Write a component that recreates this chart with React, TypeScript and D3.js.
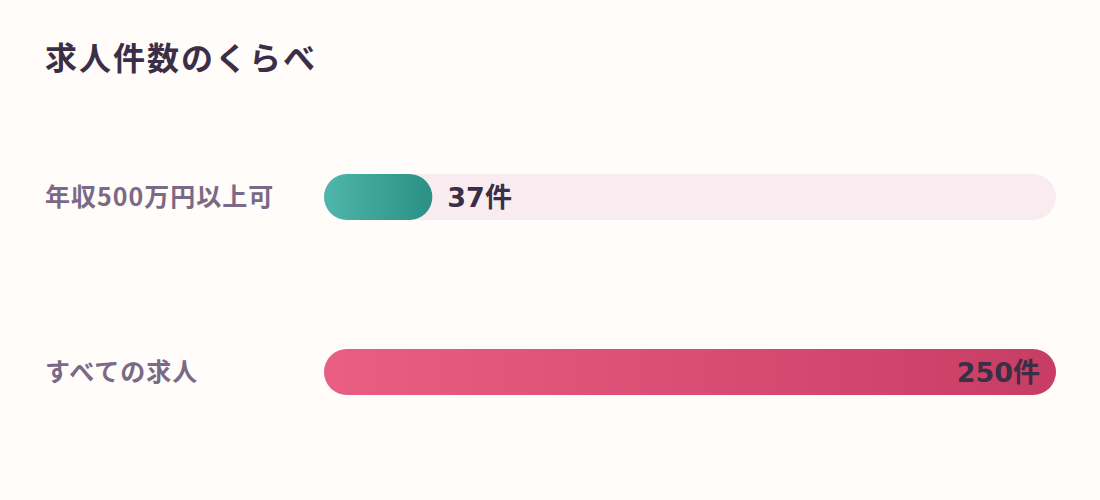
import React, { useEffect, useRef } from 'react'
import * as d3 from 'd3'

const title = '求人件数のくらべ'
const categories = ['年収500万円以上可', 'すべての求人']
const counts = [37, 250]
const valueSuffix = '件'
const maxCount = 250

const App = () => {
    const ref = useRef<SVGSVGElement>(null)

    useEffect(() => {
        document.body.style.margin = '0'
        draw()
    })

    const draw = () => {
        const width = 1100
        const height = 500
        const barLeft = 324
        const barRight = 1056
        const barH = 46

        const svg = d3.select(ref.current)
        svg.selectAll('*').remove()
        svg.attr('width', width).attr('height', height)

        svg.append('rect').attr('width', width).attr('height', height).attr('fill', '#fffcfa')

        const defs = svg.append('defs')
        const grads = [
            { id: 'gTeal', from: '#4fb6ab', to: '#2a9086' },
            { id: 'gRed', from: '#e95e82', to: '#c83d64' },
        ]
        grads.forEach((g) => {
            const lg = defs.append('linearGradient').attr('id', g.id).attr('x1', '0%').attr('x2', '100%')
            lg.append('stop').attr('offset', '0%').attr('stop-color', g.from)
            lg.append('stop').attr('offset', '100%').attr('stop-color', g.to)
        })

        // title
        svg.append('text')
            .attr('x', 45)
            .attr('y', 70)
            .attr('font-family', '"Noto Sans CJK JP", sans-serif')
            .attr('font-weight', 700)
            .attr('font-size', 32)
            .attr('letter-spacing', 2)
            .attr('fill', '#3b2f48')
            .text(title)

        const x = d3.scaleLinear().domain([0, maxCount]).range([0, barRight - barLeft])
        const y = d3.scalePoint<string>().domain(categories).range([197, 372])

        const rows = svg.selectAll('.row')
            .data(categories)
            .enter()
            .append('g')
            .attr('class', 'row')
            .attr('transform', (d) => `translate(0,${y(d)})`)

        rows.append('text')
            .attr('x', 45)
            .attr('y', 0)
            .attr('dy', '0.36em')
            .attr('font-family', '"Noto Sans CJK JP", sans-serif')
            .attr('font-weight', 700)
            .attr('font-size', 25)
            .attr('letter-spacing', 1)
            .attr('fill', '#7b6a86')
            .text((d) => d)

        // track
        rows.append('rect')
            .attr('x', barLeft)
            .attr('y', -barH / 2)
            .attr('width', x(maxCount))
            .attr('height', barH)
            .attr('rx', barH / 2)
            .attr('fill', '#f9ecf0')

        rows.append('rect')
            .attr('x', barLeft)
            .attr('y', -barH / 2)
            .attr('width', (_, i) => x(counts[i]))
            .attr('height', barH)
            .attr('rx', barH / 2)
            .attr('fill', (_, i) => (i === 0 ? 'url(#gTeal)' : 'url(#gRed)'))

        rows.append('text')
            .attr('x', (_, i) => {
                const w = x(counts[i])
                return w > 600 ? barLeft + w - 16 : barLeft + w + 15
            })
            .attr('text-anchor', (_, i) => (x(counts[i]) > 600 ? 'end' : 'start'))
            .attr('y', 0)
            .attr('dy', '0.36em')
            .attr('font-family', '"DejaVu Sans", "Noto Sans CJK JP", sans-serif')
            .attr('font-weight', 700)
            .attr('font-size', 27)
            .attr('fill', '#3b2f48')
            .text((_, i) => `${counts[i]}${valueSuffix}`)
    }

    return <svg ref={ref} style={{ display: 'block' }}></svg>
}

export default App
